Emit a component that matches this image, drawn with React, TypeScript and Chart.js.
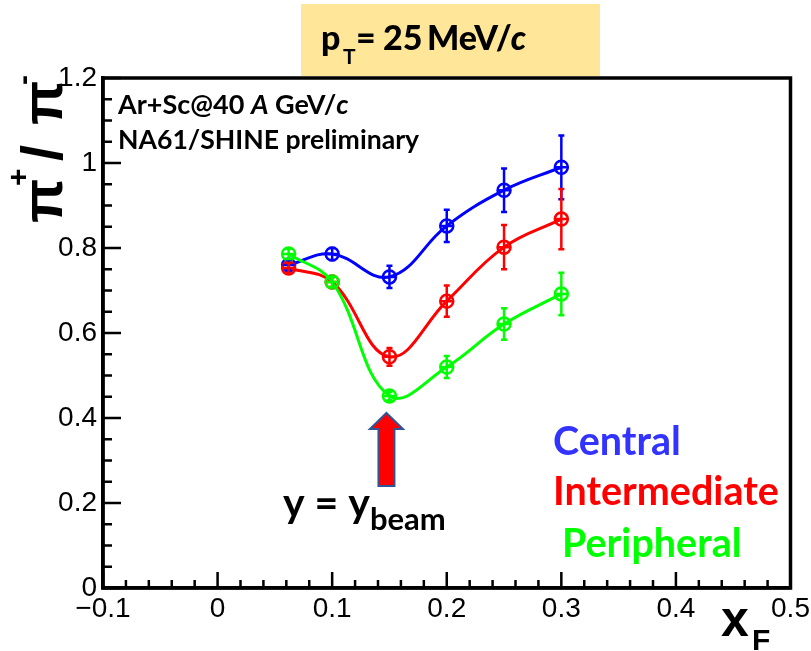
import React, { useEffect, useRef } from "react";
import { Chart, registerables } from "chart.js";

Chart.register(...registerables);

// ---- data ----
const X_VALUES = [0.062, 0.1, 0.15, 0.2, 0.25, 0.3];
const CENTRAL = [0.76, 0.786, 0.732, 0.852, 0.936, 0.99];
const CENTRAL_ERR = [0.012, 0.014, 0.026, 0.038, 0.051, 0.075];
const INTERMEDIATE = [0.753, 0.72, 0.544, 0.675, 0.802, 0.868];
const INTERMEDIATE_ERR = [0.012, 0.012, 0.021, 0.037, 0.052, 0.071];
const PERIPHERAL = [0.786, 0.72, 0.452, 0.52, 0.621, 0.692];
const PERIPHERAL_ERR = [0.012, 0.012, 0.01, 0.026, 0.037, 0.05];

const X_TICKS = [-0.1, 0, 0.1, 0.2, 0.3, 0.4, 0.5];
const X_TICK_LABELS = ["\u22120.1", "0", "0.1", "0.2", "0.3", "0.4", "0.5"];
const Y_TICKS = [0, 0.2, 0.4, 0.6, 0.8, 1, 1.2];
const Y_TICK_LABELS = ["0", "0.2", "0.4", "0.6", "0.8", "1", "1.2"];
const X_MINOR_STEP = 0.02;
const Y_MINOR_STEP = 0.05;

const SERIES_NAMES = ["Central", "Intermediate", "Peripheral"];
const BEAM_XF = 0.15;

const BLUE = "#0000ff";
const RED = "#ff0000";
const GREEN = "#00ff00";

const TICK_FONT = "'Liberation Sans', Arial, sans-serif";
const TEXT_FONT = "Lato, 'Open Sans', sans-serif";

const ERRORS: Record<string, number[]> = {
  Central: CENTRAL_ERR,
  Intermediate: INTERMEDIATE_ERR,
  Peripheral: PERIPHERAL_ERR,
};

type Run = { text: string; font: string; dy?: number };

function drawRuns(ctx: CanvasRenderingContext2D, x: number, y: number, runs: Run[]) {
  let cx = x;
  for (const r of runs) {
    ctx.font = r.font;
    ctx.fillText(r.text, cx, y + (r.dy || 0));
    cx += ctx.measureText(r.text).width;
  }
}

const errorBarPlugin = {
  id: "errorBars",
  afterDatasetsDraw(chart: any) {
    const ctx = chart.ctx as CanvasRenderingContext2D;
    const xs = chart.scales.x;
    const ys = chart.scales.y;
    const n = chart.data.datasets.length;
    for (let d = n - 1; d >= 0; d--) {
      const ds: any = chart.data.datasets[d];
      const errs = ERRORS[ds.label] || [];
      ctx.save();
      ctx.strokeStyle = ds.borderColor;
      ctx.lineWidth = 2.5;
      ds.data.forEach((p: any, i: number) => {
        const e = errs[i] || 0;
        const px = xs.getPixelForValue(p.x);
        const py = ys.getPixelForValue(p.y);
        const pTop = ys.getPixelForValue(p.y + e);
        const pBot = ys.getPixelForValue(p.y - e);
        ctx.beginPath();
        ctx.moveTo(px, pTop);
        ctx.lineTo(px, pBot);
        ctx.moveTo(px - 3, pTop);
        ctx.lineTo(px + 3, pTop);
        ctx.moveTo(px - 3, pBot);
        ctx.lineTo(px + 3, pBot);
        ctx.moveTo(px - 6, py);
        ctx.lineTo(px + 6, py);
        ctx.stroke();
      });
      ctx.restore();
    }
  },
};

const annotationPlugin = {
  id: "annotations",
  afterDraw(chart: any) {
    const ctx = chart.ctx as CanvasRenderingContext2D;
    const xs = chart.scales.x;
    const ys = chart.scales.y;
    const ca = chart.chartArea;

    ctx.save();
    ctx.fillStyle = "#000000";

    // y-axis title: pi+/pi- (rotated)
    ctx.save();
    ctx.translate(62, 223);
    ctx.rotate(-Math.PI / 2);
    ctx.font = `bold 58px ${TICK_FONT}`;
    ctx.fillText("\u03c0", 0, 0);
    ctx.font = `bold 30px ${TICK_FONT}`;
    ctx.fillText("+", 37, -34);
    ctx.font = `bold 58px ${TICK_FONT}`;
    ctx.fillText("/", 62, 0);
    ctx.fillText("\u03c0", 98, 0);
    ctx.font = `bold 30px ${TICK_FONT}`;
    ctx.fillText("-", 138, -29);
    ctx.restore();

    // x-axis title: x_F
    ctx.font = `bold 50px ${TICK_FONT}`;
    ctx.fillText("x", 721, 636);
    ctx.font = `bold 30px ${TICK_FONT}`;
    ctx.fillText("F", 752, 650);

    // pT box
    ctx.fillStyle = "#ffe699";
    ctx.fillRect(301, 4, 299, 72);
    ctx.fillStyle = "#000000";
    ctx.font = `900 34px ${TEXT_FONT}`;
    ctx.fillText("p", 321, 50);
    ctx.font = `bold 21px ${TEXT_FONT}`;
    ctx.fillText("T", 343, 64);
    ctx.font = `900 34px ${TEXT_FONT}`;
    ctx.fillText("=", 356, 50);
    ctx.fillText("25", 383, 50);
    ctx.fillText("MeV/", 427, 50);
    const mw = ctx.measureText("MeV/").width;
    ctx.font = `italic 900 34px ${TEXT_FONT}`;
    ctx.fillText("c", 427 + mw - 1, 50);

    // experiment label
    const b = `bold 27px ${TEXT_FONT}`;
    const bi = `italic bold 27px ${TEXT_FONT}`;
    drawRuns(ctx, 118, 114, [
      { text: "Ar+Sc@40 ", font: b },
      { text: "A", font: bi },
      { text: " GeV/", font: b },
      { text: "c", font: bi },
    ]);
    drawRuns(ctx, 118, 149, [{ text: "NA61/SHINE preliminary", font: `bold 26.6px ${TEXT_FONT}` }]);

    // series labels
    ctx.font = `bold 39.5px ${TEXT_FONT}`;
    ctx.fillStyle = "#3333ff";
    ctx.fillText(SERIES_NAMES[0], 553, 455);
    ctx.fillStyle = RED;
    ctx.fillText(SERIES_NAMES[1], 553, 505);
    ctx.fillStyle = GREEN;
    ctx.fillText(SERIES_NAMES[2], 562, 557);

    // beam arrow
    const ax = xs.getPixelForValue(BEAM_XF) - 3;
    ctx.beginPath();
    ctx.moveTo(ax, 413);
    ctx.lineTo(ax + 16.5, 429);
    ctx.lineTo(ax + 8, 429);
    ctx.lineTo(ax + 8, 486);
    ctx.lineTo(ax - 8, 486);
    ctx.lineTo(ax - 8, 429);
    ctx.lineTo(ax - 16.5, 429);
    ctx.closePath();
    ctx.fillStyle = RED;
    ctx.fill();
    ctx.strokeStyle = "#2f5597";
    ctx.lineWidth = 2;
    ctx.stroke();

    ctx.fillStyle = "#000000";
    drawRuns(ctx, 283, 517, [
      { text: "y = y", font: `bold 41px ${TEXT_FONT}` },
      { text: "beam", font: `bold 31px ${TEXT_FONT}`, dy: 13 },
    ]);

    // ROOT-style frame and inward ticks (drawn last)
    ctx.strokeStyle = "#000000";
    ctx.lineWidth = 3.5;
    ctx.beginPath();
    ctx.moveTo(ca.left, ca.top);
    ctx.lineTo(ca.right, ca.top);
    ctx.lineTo(ca.right, ca.bottom);
    ctx.lineTo(ca.left, ca.bottom);
    ctx.closePath();
    ctx.stroke();
    ctx.lineWidth = 2.5;
    ctx.beginPath();
    const nx = Math.round((X_TICKS[X_TICKS.length - 1] - X_TICKS[0]) / X_MINOR_STEP);
    for (let i = 0; i <= nx; i++) {
      const px = xs.getPixelForValue(X_TICKS[0] + i * X_MINOR_STEP);
      const len = i % 5 === 0 ? 16 : 8;
      ctx.moveTo(px, ca.bottom);
      ctx.lineTo(px, ca.bottom - len);
    }
    const ny = Math.round((Y_TICKS[Y_TICKS.length - 1] - Y_TICKS[0]) / Y_MINOR_STEP);
    for (let i = 0; i <= ny; i++) {
      const py = ys.getPixelForValue(Y_TICKS[0] + i * Y_MINOR_STEP);
      const len = i % 4 === 0 ? 18 : 9;
      ctx.moveTo(ca.left, py);
      ctx.lineTo(ca.left + len, py);
    }
    ctx.stroke();
    ctx.restore();
  },
};

export default function App() {
  const ref = useRef<HTMLCanvasElement | null>(null);

  useEffect(() => {
    document.body.style.margin = "0";
    const canvas = ref.current;
    if (!canvas) return;
    const mk = (label: string, ys: number[], color: string) => ({
      label,
      data: X_VALUES.map((x, i) => ({ x, y: ys[i] })),
      borderColor: color,
      borderWidth: 3,
      pointRadius: 6.5,
      pointBorderWidth: 2.5,
      pointBackgroundColor: "rgba(0,0,0,0)",
      tension: 0.4,
    });
    const chart = new Chart(canvas, {
      type: "line",
      data: {
        datasets: [
          mk(SERIES_NAMES[2], PERIPHERAL, GREEN),
          mk(SERIES_NAMES[1], INTERMEDIATE, RED),
          mk(SERIES_NAMES[0], CENTRAL, BLUE),
        ] as any,
      },
      options: {
        responsive: false,
        animation: false,
        devicePixelRatio: 1,
        layout: { padding: { top: 78, right: 20.5, bottom: 0, left: 0 } },
        plugins: { legend: { display: false }, tooltip: { enabled: false } },
        scales: {
          x: {
            type: "linear",
            min: -0.1,
            max: 0.5,
            afterBuildTicks: (s: any) => {
              s.ticks = X_TICKS.map((v) => ({ value: v }));
            },
            afterFit: (s: any) => {
              s.height = 63;
              s.paddingLeft = 0;
              s.paddingRight = 0;
            },
            ticks: {
              autoSkip: false,
              maxRotation: 0,
              padding: 4,
              color: "#000",
              font: { family: TICK_FONT, size: 28 },
              callback: (_v: any, i: number) => X_TICK_LABELS[i],
            },
            grid: { display: false, drawTicks: false },
            border: { display: true, color: "#000", width: 3.5 },
          },
          y: {
            type: "linear",
            min: 0,
            max: 1.2,
            afterBuildTicks: (s: any) => {
              s.ticks = Y_TICKS.map((v) => ({ value: v }));
            },
            afterFit: (s: any) => {
              s.width = 103;
              s.paddingTop = 0;
              s.paddingBottom = 0;
            },
            ticks: {
              autoSkip: false,
              padding: 6,
              color: "#000",
              font: { family: TICK_FONT, size: 28 },
              callback: (_v: any, i: number) => Y_TICK_LABELS[i],
            },
            grid: { display: false, drawTicks: false },
            border: { display: true, color: "#000", width: 3.5 },
          },
        },
      },
      plugins: [errorBarPlugin, annotationPlugin],
    } as any);
    return () => chart.destroy();
  }, []);

  return (
    <div style={{ width: 811, height: 651, background: "#fff" }}>
      <canvas ref={ref} width={811} height={651} style={{ width: 811, height: 651, display: "block" }} />
    </div>
  );
}
